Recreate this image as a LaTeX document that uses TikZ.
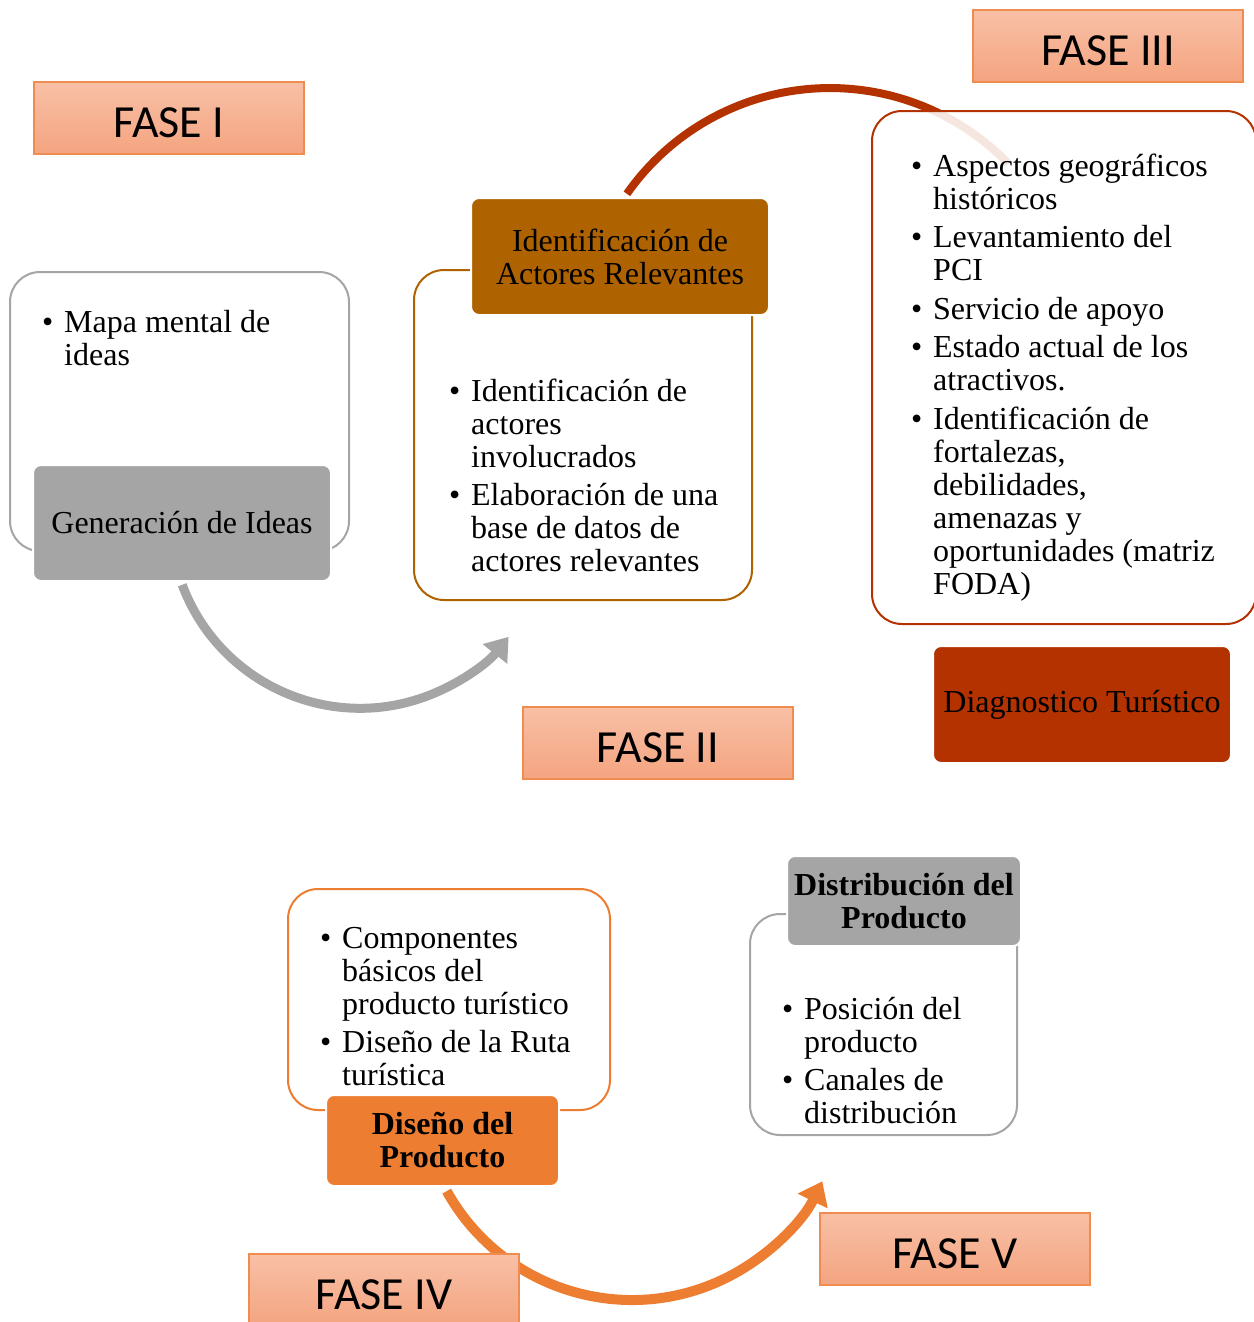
\documentclass[tikz,border=0pt]{standalone}
\usepackage{fontspec}
\setmainfont{Liberation Serif}
\newfontfamily\fasefont{Carlito}
\usetikzlibrary{arrows.meta}
\definecolor{cgray}{RGB}{165,165,165}
\definecolor{cbrown}{RGB}{175,99,0}
\definecolor{cred}{RGB}{179,50,0}
\definecolor{corange}{RGB}{237,125,49}
\definecolor{ftop}{RGB}{248,192,166}
\definecolor{fbot}{RGB}{244,164,128}
\definecolor{fline}{RGB}{241,140,80}
\newcommand{\bul}{\makebox[22pt][l]{\textbullet}}
\newcommand{\ind}{\hspace*{22pt}}
\begin{document}
\begin{tikzpicture}[x=1pt,y=-1pt,
 fase/.style={draw=fline, line width=1.5pt, top color=ftop, bottom color=fbot,
   minimum width=270pt, minimum height=72pt, inner sep=0pt,
   text height=38.6pt, text depth=0pt,
   font=\fasefont\fontsize{46}{50}\selectfont},
 outer/.style={draw, line width=2pt, rounded corners=30pt, fill=white, inner sep=0pt},
 headbox/.style={rounded corners=8pt, draw=white, line width=2pt, inner sep=0pt,
   align=center, font=\fontsize{32}{33}\selectfont},
 bullets/.style={anchor=north west, inner sep=0pt, align=left,
   font=\fontsize{32}{33}\selectfont},
]
\useasboundingbox (0,0) rectangle (1253,1322);
\fill[white] (0,0) rectangle (1253,1322);

% connectors (drawn first, behind the boxes)
\coordinate (gs) at (182.2,584.8);
\draw[cgray, line width=9pt, -{Triangle[width=30pt,length=22pt]}]
  (gs) arc[start angle=159.5, end angle=38.6, radius=190];
\coordinate (rs) at (626.9,193.8);
\draw[cred, line width=8pt]
  (rs) arc[start angle=215, end angle=316, radius=248];
\coordinate (os) at (446.7,1191.1);
\draw[corange, line width=10pt, -{Triangle[width=32pt,length=22pt]}]
  (os) arc[start angle=150.9, end angle=26.1, radius=212];

% outline boxes
\node[outer, draw=cgray, minimum width=339pt, minimum height=279pt] (b1) at (179.5,411.5) {};
\node[outer, draw=cbrown, minimum width=338pt, minimum height=330pt] (b2) at (583,435) {};
\node[outer, draw=cred, fill opacity=0.88, minimum width=384pt, minimum height=513pt] (b3) at (1064,367.5) {};
\node[outer, draw=corange, minimum width=322pt, minimum height=221pt] (b4) at (449,999.5) {};
\node[outer, draw=cgray, minimum width=267pt, minimum height=221pt] (b5) at (883.5,1024.5) {};

% heading nodes
\node[headbox, fill=cgray, minimum width=298pt, minimum height=116pt] (h1) at (182,523) {Generación de Ideas};
\node[headbox, fill=cbrown, minimum width=298pt, minimum height=117pt] (h2) at (620,256.5) {Identificación de\\Actores Relevantes};
\node[headbox, fill=cred, minimum width=298pt, minimum height=117pt] (h3) at (1082,704.5) {Diagnostico Turístico};
\node[headbox, fill=corange, minimum width=233pt, minimum height=91pt, font=\fontsize{32}{33}\selectfont\bfseries] (h4) at (442.5,1140.5) {Diseño del\\Producto};
\node[headbox, fill=cgray, minimum width=234pt, minimum height=90pt, font=\fontsize{32}{33}\selectfont\bfseries] (h5) at (904,901) {Distribución del\\Producto};

% bullet texts
\node[bullets] (t1) at (42,309) {\strut\bul Mapa mental de\\\ind ideas};
\node[bullets] (t2) at (449,378) {\strut\bul Identificación de\\\ind actores\\\ind involucrados\\[5.5pt]\bul Elaboración de una\\\ind base de datos de\\\ind actores relevantes};
\node[bullets] (t3) at (911,153) {\strut\bul Aspectos geográficos\\\ind históricos\\[5.5pt]\bul Levantamiento del\\\ind PCI\\[5.5pt]\bul Servicio de apoyo\\[5.5pt]\bul Estado actual de los\\\ind atractivos.\\[5.5pt]\bul Identificación de\\\ind fortalezas,\\\ind debilidades,\\\ind amenazas y\\\ind oportunidades (matriz\\\ind FODA)};
\node[bullets] (t4) at (320,925) {\strut\bul Componentes\\\ind básicos del\\\ind producto turístico\\[5.5pt]\bul Diseño de la Ruta\\\ind turística};
\node[bullets] (t5) at (782,996) {\strut\bul Posición del\\\ind producto\\[5.5pt]\bul Canales de\\\ind distribución};

% phase labels
\node[fase] (f1) at (169,118) {FASE I};
\node[fase] (f3) at (1108,46) {FASE III};
\node[fase] (f2) at (658,743) {FASE II};
\node[fase] (f4) at (384,1290) {FASE IV};
\node[fase] (f5) at (955,1249) {FASE V};
\end{tikzpicture}
\end{document}
